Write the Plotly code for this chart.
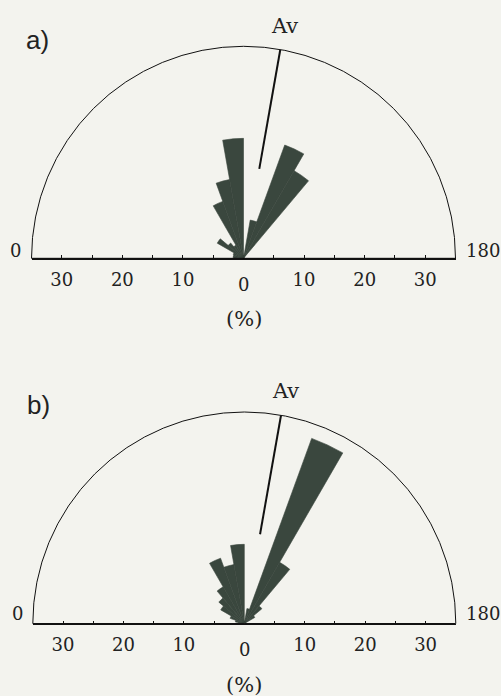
import math
import plotly.graph_objects as go

# ---------------- data ----------------
bin_centers = [5, 15, 25, 35, 45, 55, 65, 75, 85, 95, 105, 115, 125, 135, 145, 155, 165, 175]
bin_width = 10
panel_a_pct = [1.7, 1.7, 1.8, 5.0, 3.3, 2.5, 10.0, 13.2, 19.8, 0.0, 6.4, 19.9, 16.7, 0.0, 0.0, 0.0, 0.0, 0.0]
panel_b_pct = [1.0, 1.5, 2.5, 4.5, 5.5, 7.0, 11.5, 9.9, 13.1, 0.0, 2.5, 32.6, 11.7, 3.8, 2.0, 0.0, 0.0, 0.0]
av_theta_a = 100
av_theta_b = 100
av_r = [15, 35]
av_label_r = 39
r_max = 35
tick_vals = [-35, -30, -25, -20, -15, -10, -5, 0, 5, 10, 15, 20, 25, 30, 35]
tick_text = ["", "30", "", "20", "", "10", "", "", "", "10", "", "20", "", "30", ""]
panel_labels = ["a)", "b)"]
end_labels = ["0", "180"]
unit_label = "(%)"

# ---------------- layout geometry ----------------
W, H = 501, 696
BAR = "#3a473e"
BG = "#f3f3ee"
SERIF = "DejaVu Serif"
TXT = "#222"
panels = [
    dict(cx=243.5, cy=258.3, R=212.0, vals=panel_a_pct, av=av_theta_a, lab=panel_labels[0],
         lab_xy=(37, 40), pid="", endshift=8),
    dict(cx=244.3, cy=623.5, R=211.5, vals=panel_b_pct, av=av_theta_b, lab=panel_labels[1],
         lab_xy=(38, 405), pid="2", endshift=10),
]

fig = go.Figure()
layout = dict(width=W, height=H, margin=dict(l=0, r=0, t=0, b=0), autosize=False,
              paper_bgcolor=BG, plot_bgcolor="rgba(0,0,0,0)", showlegend=False,
              annotations=[])

for p in panels:
    pid = p["pid"]
    polar_name = "polar" + pid
    xd = [(p["cx"] - p["R"]) / W, (p["cx"] + p["R"]) / W]
    yd = [(H - p["cy"]) / H, (H - p["cy"] + p["R"]) / H]

    fig.add_trace(go.Barpolar(r=p["vals"], theta=bin_centers, width=[bin_width] * len(bin_centers),
                              marker=dict(color=BAR, line=dict(width=0.6, color=BAR)),
                              subplot=polar_name, hoverinfo="skip"))
    fig.add_trace(go.Scatterpolar(r=av_r, theta=[p["av"], p["av"]], mode="lines",
                                  line=dict(color="#111", width=2), subplot=polar_name,
                                  hoverinfo="skip"))
    # invisible cartesian trace for the diameter axis
    fig.add_trace(go.Scatter(x=[-r_max, r_max], y=[0, 0], mode="lines",
                             line=dict(width=0, color="rgba(0,0,0,0)"),
                             xaxis="x" + pid, yaxis="y" + pid, hoverinfo="skip"))

    layout[polar_name] = dict(
        domain=dict(x=xd, y=yd),
        sector=[0, 180],
        bgcolor="rgba(0,0,0,0)",
        bargap=0,
        radialaxis=dict(range=[0, r_max], showline=False, showticklabels=False, ticks="",
                        showgrid=False),
        angularaxis=dict(rotation=180, direction="clockwise", tickvals=[90],
                         showticklabels=False, ticks="", showgrid=True, gridcolor="#111",
                         gridwidth=1, showline=True, linecolor="#111", linewidth=1),
    )
    layout["xaxis" + pid] = dict(domain=xd, range=[-r_max, r_max], anchor="y" + pid,
                                 showline=True, linecolor="#111", linewidth=1.2,
                                 ticks="inside", ticklen=3, tickwidth=1, tickcolor="#111",
                                 tickvals=tick_vals, ticktext=tick_text, showgrid=False,
                                 zeroline=False, fixedrange=True, ticklabelstandoff=5,
                                 tickfont=dict(family=SERIF, size=18, color=TXT))
    layout["yaxis" + pid] = dict(domain=yd, range=[0, r_max], anchor="x" + pid, visible=False,
                                 fixedrange=True)

    xr, yr = "x" + pid, "y" + pid
    ann = layout["annotations"]
    ann.append(dict(text=p["lab"], xref="paper", yref="paper", x=p["lab_xy"][0] / W,
                    y=1 - p["lab_xy"][1] / H, showarrow=False, xanchor="center", yanchor="middle",
                    font=dict(family="Liberation Sans", size=26, color=TXT)))
    ann.append(dict(text=end_labels[0], xref=xr, yref=yr, x=-r_max, y=0, showarrow=False,
                    xanchor="right", yanchor="middle", xshift=-8, yshift=p["endshift"],
                    font=dict(family=SERIF, size=18, color=TXT)))
    ann.append(dict(text=end_labels[1], xref=xr, yref=yr, x=r_max, y=0, showarrow=False,
                    xanchor="left", yanchor="middle", xshift=8, yshift=p["endshift"],
                    font=dict(family=SERIF, size=18, color=TXT)))
    ann.append(dict(text="0", xref=xr, yref=yr, x=0, y=0, showarrow=False,
                    xanchor="center", yanchor="middle", yshift=-26,
                    font=dict(family=SERIF, size=18, color=TXT)))
    ann.append(dict(text=unit_label, xref=xr, yref=yr, x=0, y=0, showarrow=False,
                    xanchor="center", yanchor="middle", yshift=-61,
                    font=dict(family=SERIF, size=21, color=TXT)))
    # "Av" label just outside the arc, on the average direction (paper coordinates)
    t = math.radians(p["av"])
    px = p["cx"] + p["R"] * (-av_label_r * math.cos(t)) / r_max
    py = p["cy"] - p["R"] * (av_label_r * math.sin(t)) / r_max
    ann.append(dict(text="Av", xref="paper", yref="paper", x=px / W, y=1 - py / H,
                    showarrow=False, xanchor="center", yanchor="middle",
                    font=dict(family=SERIF, size=21, color=TXT)))

fig.update_layout(**layout)
fig.write_html("out.html", config={"displayModeBar": False, "staticPlot": True},
               post_script="document.body.style.margin='0';document.body.style.overflow='hidden';")
